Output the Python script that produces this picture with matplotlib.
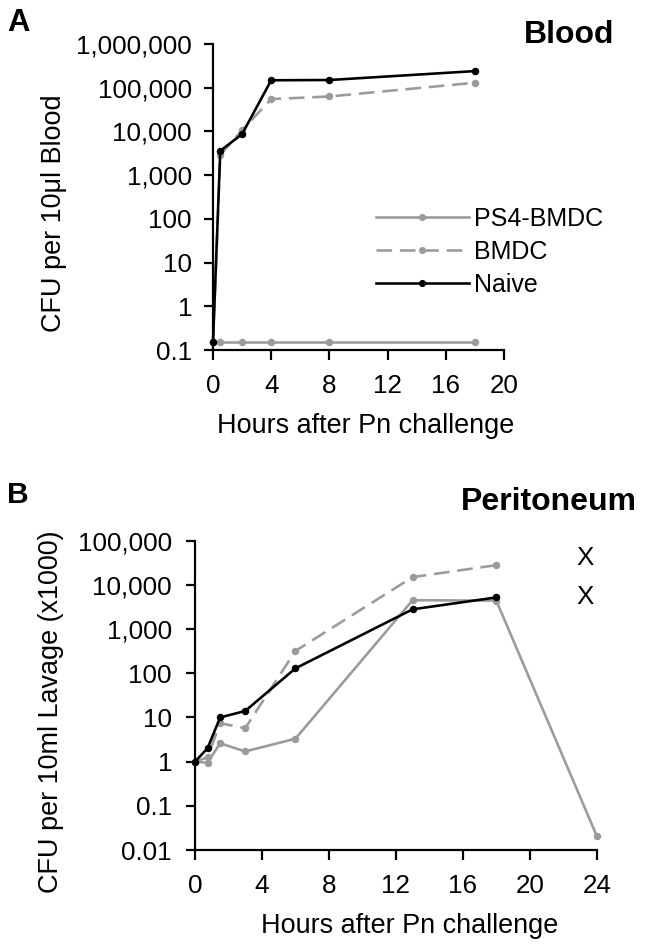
import matplotlib
matplotlib.use('Agg')
import matplotlib.pyplot as plt
from matplotlib.ticker import FixedLocator, FixedFormatter, NullLocator

plt.rcParams['font.family'] = ['Liberation Sans', 'DejaVu Sans']

# ---------------- data ----------------
series_names = ['PS4-BMDC', 'BMDC', 'Naive']

blood_hours = [0, 0.5, 2, 4, 8, 18]
blood_ps4 = [0.15, 0.15, 0.15, 0.15, 0.15, 0.15]
blood_bmdc = [0.15, 2900, 10700, 55000, 63000, 130000]
blood_naive = [0.15, 3600, 8700, 148000, 150000, 240000]

perit_hours_ps4 = [0, 0.75, 1.5, 3, 6, 13, 18, 24]
perit_ps4 = [1, 0.95, 2.6, 1.7, 3.3, 4500, 4400, 0.021]
perit_hours = [0, 0.75, 1.5, 3, 6, 13, 18]
perit_bmdc = [1, 1.25, 7.4, 5.7, 320, 15000, 28000]
perit_naive = [1, 2.0, 10, 14, 129, 2800, 5200]

death_hours = [23.3, 23.3]
death_values = [40000, 5300]

blood_yticks = [0.1, 1, 10, 100, 1e3, 1e4, 1e5, 1e6]
blood_ylabels = ['0.1', '1', '10', '100', '1,000', '10,000', '100,000', '1,000,000']
blood_xticks = [0, 4, 8, 12, 16, 20]

perit_yticks = [0.01, 0.1, 1, 10, 100, 1e3, 1e4, 1e5]
perit_ylabels = ['0.01', '0.1', '1', '10', '100', '1,000', '10,000', '100,000']
perit_xticks = [0, 4, 8, 12, 16, 20, 24]

# ---------------- figure ----------------
W, H = 648, 947
fig = plt.figure(figsize=(W / 72, H / 72), dpi=72)

def px_axes(l, t, r, b):
    return fig.add_axes([l / W, 1 - b / H, (r - l) / W, (b - t) / H])

GREY = '#9b9b9b'
BLACK = '#000000'
TICK_FS = 26
DASH = (0, (6, 3))

def style(ax, xticks, yticks, ylabels, ypad):
    ax.set_yscale('log')
    for s in ['top', 'right']:
        ax.spines[s].set_visible(False)
    for s in ['left', 'bottom']:
        ax.spines[s].set_linewidth(2.2)
    ax.yaxis.set_major_locator(FixedLocator(yticks))
    ax.yaxis.set_major_formatter(FixedFormatter(ylabels))
    ax.yaxis.set_minor_locator(NullLocator())
    ax.set_xticks(xticks)
    ax.set_xticklabels([str(v) for v in xticks])
    ax.tick_params(axis='y', direction='out', length=9, width=2.2, pad=ypad, labelsize=TICK_FS)
    ax.tick_params(axis='x', direction='out', length=10, width=2.2, pad=14, labelsize=TICK_FS)

# ---- Panel A ----
axA = px_axes(213, 44, 504, 350)
axA.set_xlim(blood_xticks[0], blood_xticks[-1])
axA.set_ylim(blood_yticks[0], blood_yticks[-1])
style(axA, blood_xticks, blood_yticks, blood_ylabels, 12)
axA.plot(blood_hours, blood_ps4, color=GREY, lw=2.6, marker='o', ms=7.5, mew=0, clip_on=False, label=series_names[0])
axA.plot(blood_hours, blood_bmdc, color=GREY, lw=2.6, ls=DASH, marker='o', ms=7.5, mew=0, clip_on=False, label=series_names[1])
axA.plot(blood_hours, blood_naive, color=BLACK, lw=2.6, marker='o', ms=7.5, mew=0, clip_on=False, label=series_names[2])
leg = axA.legend(loc='upper left', bbox_to_anchor=((376 - 213) / 291, (350 - 207) / 306),
                 frameon=False, fontsize=25, handlelength=3.7, handletextpad=0.2,
                 labelspacing=0.35, borderpad=0, borderaxespad=0, markerscale=0.95)

# ---- Panel B ----
axB = px_axes(195, 540.7, 596.7, 850)
axB.set_xlim(perit_xticks[0], perit_xticks[-1])
axB.set_ylim(perit_yticks[0], perit_yticks[-1])
style(axB, perit_xticks, perit_yticks, perit_ylabels, 14)
axB.plot(perit_hours_ps4, perit_ps4, color=GREY, lw=2.6, marker='o', ms=7.5, mew=0, clip_on=False)
axB.plot(perit_hours, perit_bmdc, color=GREY, lw=2.6, ls=DASH, marker='o', ms=7.5, mew=0, clip_on=False)
axB.plot(perit_hours, perit_naive, color=BLACK, lw=2.6, marker='o', ms=7.5, mew=0, clip_on=False)
for hx, hy in zip(death_hours, death_values):
    axB.text(hx, hy, 'X', fontsize=26, ha='center', va='center')

# ---- text ----
def ftext(x, y, s, **kw):
    fig.text(x / W, 1 - y / H, s, **kw)

ftext(7, 31, 'A', fontsize=31, fontweight='bold', ha='left', va='baseline')
ftext(7, 503, 'B', fontsize=30, fontweight='bold', ha='left', va='baseline')
ftext(524, 43, 'Blood', fontsize=32, fontweight='bold', ha='left', va='baseline')
ftext(461, 510, 'Peritoneum', fontsize=32, fontweight='bold', ha='left', va='baseline')
ftext(54, 213, 'CFU per 10\u03bcl Blood', fontsize=27, rotation=90, ha='center', va='center')
ftext(51, 712, 'CFU per 10ml Lavage (x1000)', fontsize=27, rotation=90, ha='center', va='center')
ftext(366, 433, 'Hours after Pn challenge', fontsize=27, ha='center', va='baseline')
ftext(410, 933, 'Hours after Pn challenge', fontsize=27, ha='center', va='baseline')

fig.savefig('out.png', dpi=72)
